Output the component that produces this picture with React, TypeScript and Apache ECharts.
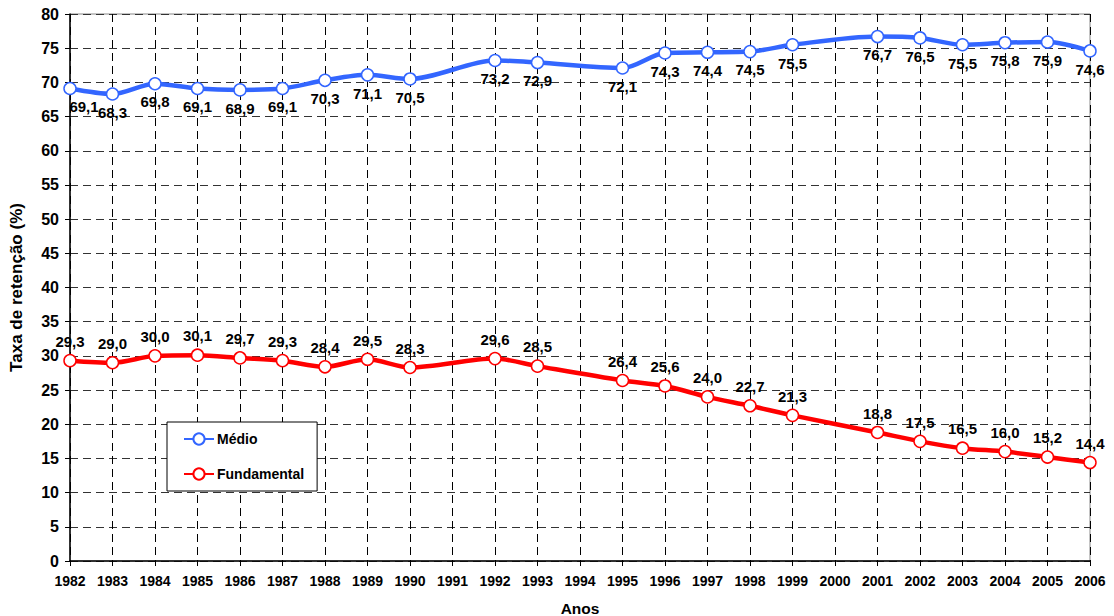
import React, { useEffect, useRef } from "react";
import * as echarts from "echarts";

const years = ["1982","1983","1984","1985","1986","1987","1988","1989","1990","1991","1992","1993","1994","1995","1996","1997","1998","1999","2000","2001","2002","2003","2004","2005","2006"];
const medio = [69.1,68.3,69.8,69.1,68.9,69.1,70.3,71.1,70.5,null,73.2,72.9,null,72.1,74.3,74.4,74.5,75.5,null,76.7,76.5,75.5,75.8,75.9,74.6];
const fundamental = [29.3,29.0,30.0,30.1,29.7,29.3,28.4,29.5,28.3,null,29.6,28.5,null,26.4,25.6,24.0,22.7,21.3,null,18.8,17.5,16.5,16.0,15.2,14.4];

const FONT = "'Liberation Sans', Arial, sans-serif";
const fmt = (p: any) => (p.value == null ? "" : Number(p.value).toFixed(1).replace(".", ","));

export default function App() {
  const ref = useRef<HTMLDivElement>(null);
  useEffect(() => {
    const chart = echarts.init(ref.current!, null, { renderer: "svg" });
    const dash = [8, 5];
    const medioData = medio.map((v, i) => (i === 0 ? { value: v, label: { offset: [14, 0] } } : v));
    chart.setOption({
      animation: false,
      textStyle: { fontFamily: FONT },
      grid: { left: 70, right: 24, top: 14, bottom: 55, outerBoundsMode: "none", containLabel: false, show: true, borderColor: "#888", borderWidth: 1, backgroundColor: "transparent" },
      legend: {
        orient: "vertical",
        left: 167,
        top: 422,
        padding: [10, 13, 10, 16],
        itemGap: 21,
        itemWidth: 30,
        itemHeight: 14,
        backgroundColor: "#fff",
        borderColor: "#000",
        borderWidth: 1,
        textStyle: { fontFamily: FONT, fontWeight: "bold", fontSize: 14, color: "#000", padding: [0, 0, 0, -2] },
        data: ["Médio", "Fundamental"],
      },
      xAxis: {
        type: "category",
        data: years,
        boundaryGap: false,
        name: "Anos",
        nameLocation: "middle",
        nameGap: 39,
        nameTextStyle: { fontFamily: FONT, fontWeight: "bold", fontSize: 15.5, color: "#000" },
        axisLine: { lineStyle: { color: "#000", width: 1.5 } },
        axisTick: { show: true, length: 5, lineStyle: { color: "#000" } },
        axisLabel: { fontFamily: FONT, fontWeight: "bold", fontSize: 14, color: "#000", margin: 13, interval: 0 },
        splitLine: { show: true, lineStyle: { color: "#000", type: dash, width: 1 } },
      },
      yAxis: {
        type: "value",
        min: 0,
        max: 80,
        interval: 5,
        name: "Taxa de retenção (%)",
        nameLocation: "middle",
        nameGap: 45,
        nameTextStyle: { fontFamily: FONT, fontWeight: "bold", fontSize: 17, color: "#000" },
        axisLine: { show: true, lineStyle: { color: "#000", width: 1.5 } },
        axisTick: { show: true, length: 5, lineStyle: { color: "#000" } },
        axisLabel: { fontFamily: FONT, fontWeight: "bold", fontSize: 16, color: "#000", margin: 11 },
        splitLine: { show: true, lineStyle: { color: "#333", type: dash, width: 1 } },
      },
      series: [
        {
          name: "Médio",
          type: "line",
          data: medioData,
          connectNulls: true,
          smooth: 0.3,
          symbol: "circle",
          symbolSize: 12,
          itemStyle: { color: "#fff", borderColor: "#3366ff", borderWidth: 1.5 },
          lineStyle: { color: "#3366ff", width: 4.5 },
          label: { show: true, position: "bottom", distance: 4, formatter: fmt, fontFamily: FONT, fontWeight: "bold", fontSize: 15, color: "#000" },
          z: 3,
        },
        {
          name: "Fundamental",
          type: "line",
          data: fundamental,
          connectNulls: true,
          smooth: 0.3,
          symbol: "circle",
          symbolSize: 12,
          itemStyle: { color: "#fff", borderColor: "#ff0000", borderWidth: 1.5 },
          lineStyle: { color: "#ff0000", width: 4.5 },
          label: { show: true, position: "top", distance: 5, formatter: fmt, fontFamily: FONT, fontWeight: "bold", fontSize: 15, color: "#000" },
          z: 3,
        },
      ],
    });
    return () => chart.dispose();
  }, []);
  return <div ref={ref} style={{ position: "fixed", left: 0, top: 0, width: 1114, height: 616, background: "#fff" }} />;
}
